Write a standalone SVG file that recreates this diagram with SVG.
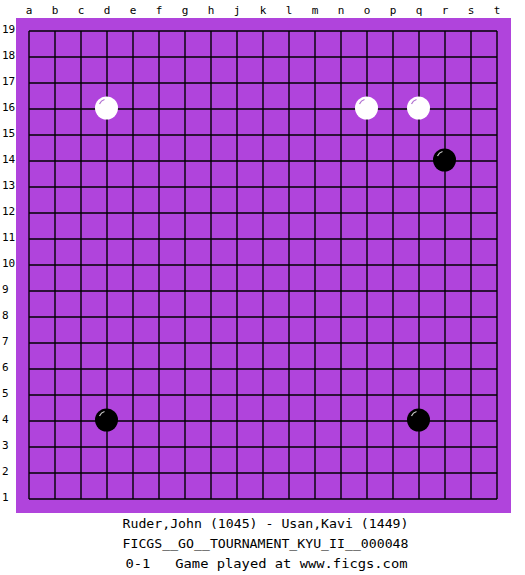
<svg xmlns="http://www.w3.org/2000/svg" width="525" height="575" viewBox="0 0 525 575">
<defs>
<style>
.lbl{font-family:"DejaVu Sans Mono","Liberation Mono",monospace;font-size:11px;fill:#000}
.col{text-anchor:middle}
.info{font-family:"DejaVu Sans Mono","Liberation Mono",monospace;font-size:12px;fill:#000;white-space:pre}
.grid line{stroke:#000;stroke-width:1.4}
.w{fill:#fff}
.b{fill:#000}
.hw{fill:none;stroke:#b070d0;stroke-width:1.2}
.hb{fill:none;stroke:#c8c8c8;stroke-width:1.2}
</style>
<g id="whiteStone"><circle class="w" r="11.5"/><path class="hw" d="M -7 -4 A 8 8 0 0 1 -2 -8.5"/></g>
<g id="blackStone"><circle class="b" r="11.5"/><path class="hb" d="M -7 -4 A 8 8 0 0 1 -2 -8.5"/></g>
</defs>
<rect width="525" height="575" fill="#fff"/>
<rect id="board" x="16" y="18" width="495" height="495" fill="#b044dc"/>
<g id="column-labels" class="lbl col">
<text x="29" y="14">a</text><text x="55" y="14">b</text><text x="81" y="14">c</text><text x="107" y="14">d</text><text x="133" y="14">e</text><text x="159" y="14">f</text><text x="185" y="14">g</text><text x="211" y="14">h</text><text x="237" y="14">j</text><text x="263" y="14">k</text><text x="289" y="14">l</text><text x="315" y="14">m</text><text x="341" y="14">n</text><text x="367" y="14">o</text><text x="393" y="14">p</text><text x="419" y="14">q</text><text x="445" y="14">r</text><text x="471" y="14">s</text><text x="497" y="14">t</text>
</g>
<g id="row-labels" class="lbl">
<text x="2" y="33">19</text><text x="2" y="59">18</text><text x="2" y="85">17</text><text x="2" y="111">16</text><text x="2" y="137">15</text><text x="2" y="163">14</text><text x="2" y="189">13</text><text x="2" y="215">12</text><text x="2" y="241">11</text><text x="2" y="267">10</text><text x="2" y="293">9</text><text x="2" y="319">8</text><text x="2" y="345">7</text><text x="2" y="371">6</text><text x="2" y="397">5</text><text x="2" y="423">4</text><text x="2" y="449">3</text><text x="2" y="475">2</text><text x="2" y="501">1</text>
</g>
<g id="grid" class="grid">
<line x1="29" y1="31" x2="29" y2="499"/><line x1="55" y1="31" x2="55" y2="499"/><line x1="81" y1="31" x2="81" y2="499"/><line x1="107" y1="31" x2="107" y2="499"/><line x1="133" y1="31" x2="133" y2="499"/><line x1="159" y1="31" x2="159" y2="499"/><line x1="185" y1="31" x2="185" y2="499"/><line x1="211" y1="31" x2="211" y2="499"/><line x1="237" y1="31" x2="237" y2="499"/><line x1="263" y1="31" x2="263" y2="499"/><line x1="289" y1="31" x2="289" y2="499"/><line x1="315" y1="31" x2="315" y2="499"/><line x1="341" y1="31" x2="341" y2="499"/><line x1="367" y1="31" x2="367" y2="499"/><line x1="393" y1="31" x2="393" y2="499"/><line x1="419" y1="31" x2="419" y2="499"/><line x1="445" y1="31" x2="445" y2="499"/><line x1="471" y1="31" x2="471" y2="499"/><line x1="497" y1="31" x2="497" y2="499"/>
<line x1="29" y1="31" x2="497" y2="31"/><line x1="29" y1="57" x2="497" y2="57"/><line x1="29" y1="83" x2="497" y2="83"/><line x1="29" y1="109" x2="497" y2="109"/><line x1="29" y1="135" x2="497" y2="135"/><line x1="29" y1="161" x2="497" y2="161"/><line x1="29" y1="187" x2="497" y2="187"/><line x1="29" y1="213" x2="497" y2="213"/><line x1="29" y1="239" x2="497" y2="239"/><line x1="29" y1="265" x2="497" y2="265"/><line x1="29" y1="291" x2="497" y2="291"/><line x1="29" y1="317" x2="497" y2="317"/><line x1="29" y1="343" x2="497" y2="343"/><line x1="29" y1="369" x2="497" y2="369"/><line x1="29" y1="395" x2="497" y2="395"/><line x1="29" y1="421" x2="497" y2="421"/><line x1="29" y1="447" x2="497" y2="447"/><line x1="29" y1="473" x2="497" y2="473"/><line x1="29" y1="499" x2="497" y2="499"/>
</g>
<g id="stone-d16"><use href="#whiteStone" x="106.5" y="108"/></g>
<g id="stone-o16"><use href="#whiteStone" x="366.5" y="108"/></g>
<g id="stone-q16"><use href="#whiteStone" x="418.5" y="108"/></g>
<g id="stone-r14"><use href="#blackStone" x="444.5" y="160"/></g>
<g id="stone-d4"><use href="#blackStone" x="106.5" y="420"/></g>
<g id="stone-q4"><use href="#blackStone" x="418.5" y="420"/></g>
<g id="info" class="info">
<text x="122.5" y="528" textLength="286" lengthAdjust="spacingAndGlyphs">Ruder,John (1045) - Usan,Kavi (1449)</text>
<text x="122.5" y="548" textLength="286" lengthAdjust="spacingAndGlyphs">FICGS__GO__TOURNAMENT_KYU_II__000048</text>
<text x="125.5" y="568" textLength="282" lengthAdjust="spacingAndGlyphs" xml:space="preserve">0-1   Game played at www.ficgs.com</text>
</g>
</svg>
